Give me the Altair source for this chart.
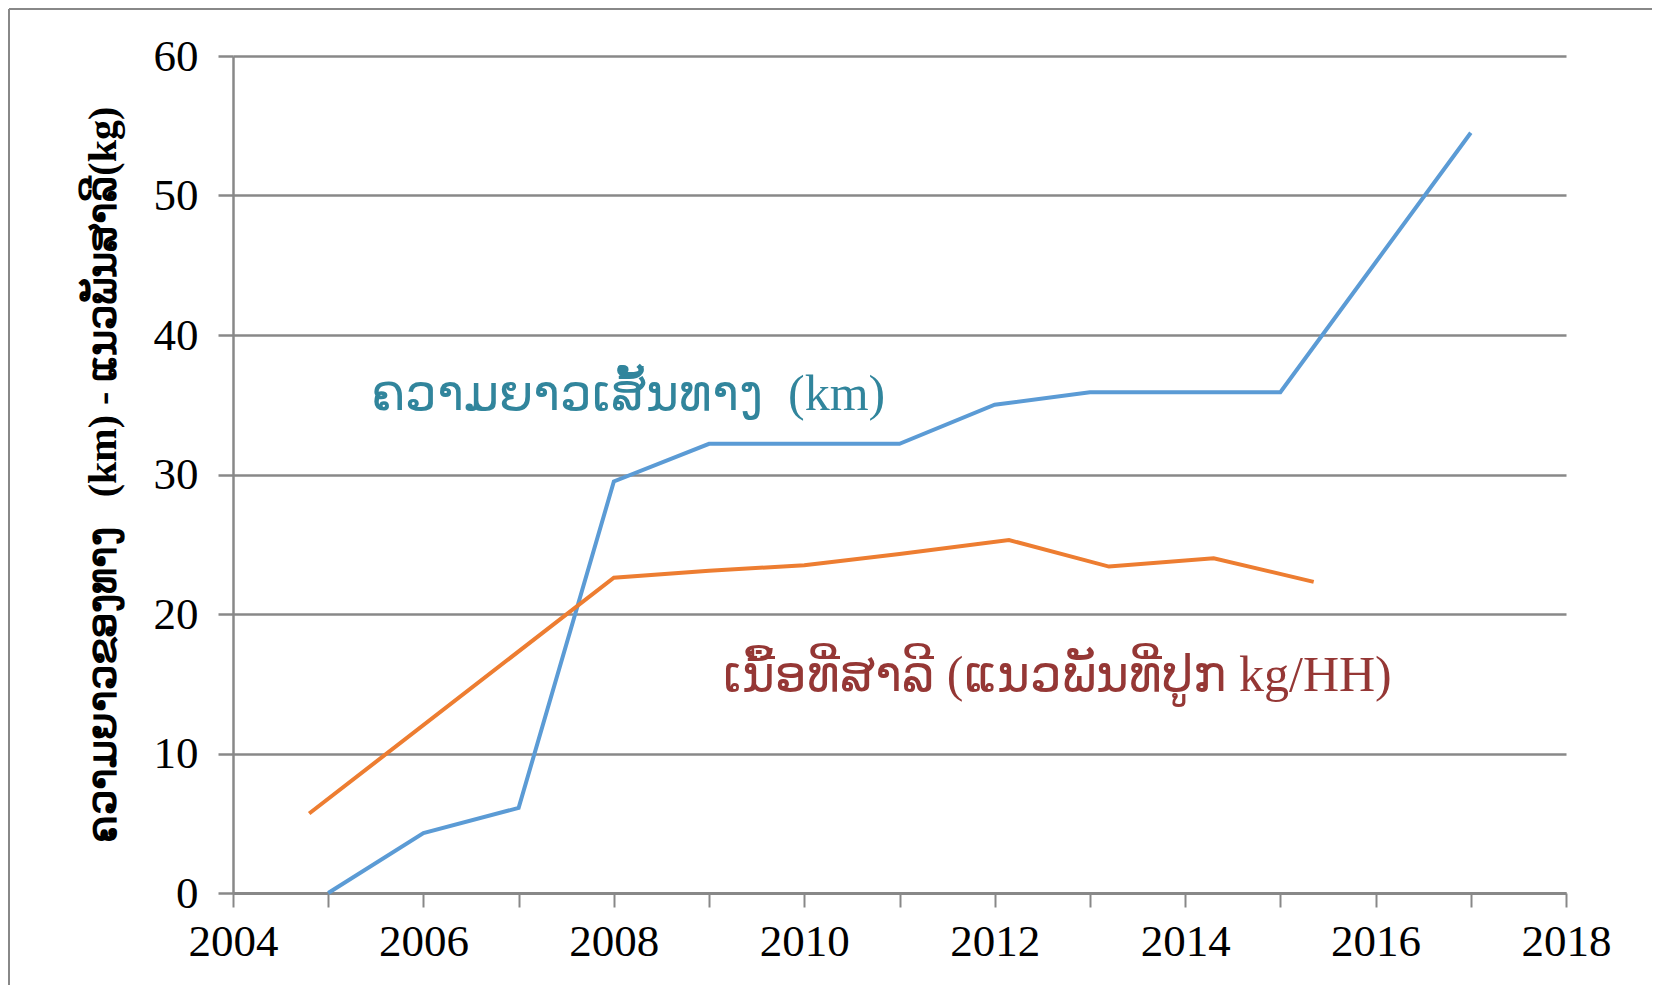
import altair as alt
import pandas as pd

# Road length (km), blue series
road_years = [2005, 2006, 2007, 2008, 2009, 2010, 2011, 2012, 2013, 2014, 2015, 2016, 2017]
road_km = [0.0, 4.3, 6.1, 29.5, 32.2, 32.2, 32.2, 35.0, 35.9, 35.9, 35.9, 45.2, 54.5]

# Maize seed (kg/HH), orange series
maize_years = [2004.8, 2008.0, 2009.0, 2010.0, 2011.0, 2012.15, 2013.2, 2014.3, 2015.35]
maize_kg = [5.7, 22.6, 23.1, 23.5, 24.3, 25.3, 23.4, 24.0, 22.3]

# Annotation labels (non-breaking spaces keep the wide gaps of the original)
label_texts = ["ຄວາມຍາວເສັ້ນທາງ\u00a0\u00a0(km)", "ເນື້ອທີ່ສາລີ (ແນວພັນທີ່ປູກ kg/HH)"]
label_x = [2005.45, 2009.15]
label_y = [34.6, 14.5]
label_colors = ["#31859C", "#953735"]
label_sizes = [50, 50]

x_ticks = list(range(2004, 2019))
y_ticks = [0, 10, 20, 30, 40, 50, 60]
y_title = "ຄວາມຍາວຂອງທາງ\u00a0\u00a0\u00a0(km) - ແນວພັນສາລີ(kg)"

road_df = pd.DataFrame({"year": road_years, "value": road_km})
maize_df = pd.DataFrame({"year": maize_years, "value": maize_kg})
label_df = pd.DataFrame({"year": label_x, "value": label_y, "text": label_texts,
                         "color": label_colors, "size": label_sizes})

W, H = 1333, 837
PAD_L, PAD_T, PAD_R, PAD_B = 225, 48, 86, 92

x_scale = alt.Scale(domain=[2004, 2018], nice=False, zero=False)
y_scale = alt.Scale(domain=[0, 60], nice=False)

x_axis = alt.Axis(
    values=x_ticks, format="d",
    labelExpr="datum.value % 2 == 0 ? datum.label : ''",
    grid=False, domain=True, domainColor="#888888", domainWidth=3,
    ticks=True, tickColor="#888888", tickSize=14, tickWidth=2,
    labelFont="Liberation Serif", labelFontSize=45, labelColor="#000000",
    labelPadding=12, labelFlush=False, labelOverlap=False, title=None,
)
y_axis = alt.Axis(
    values=y_ticks, grid=True, gridColor="#888888", gridWidth=2.5,
    domain=True, domainColor="#888888", domainWidth=2.5,
    ticks=True, tickColor="#888888", tickSize=15, tickWidth=2.5,
    labelFont="Liberation Serif", labelFontSize=45, labelColor="#000000",
    labelPadding=20, labelFlush=False,
    title=y_title, titleFont="Liberation Serif", titleFontSize=40,
    titleFontWeight="bold", titleColor="#000000", titlePadding=30,
)

base_axes = alt.Chart(road_df).mark_line(color="#5B9BD5", strokeWidth=4).encode(
    x=alt.X("year:Q", scale=x_scale, axis=x_axis),
    y=alt.Y("value:Q", scale=y_scale, axis=y_axis),
)

maize_line = alt.Chart(maize_df).mark_line(color="#ED7D31", strokeWidth=4).encode(
    x=alt.X("year:Q", scale=x_scale),
    y=alt.Y("value:Q", scale=y_scale),
)

labels = alt.Chart(label_df).mark_text(
    align="left", baseline="alphabetic", font="Liberation Serif"
).encode(
    x=alt.X("year:Q", scale=x_scale),
    y=alt.Y("value:Q", scale=y_scale),
    text="text:N",
    color=alt.Color("color:N", scale=None),
    size=alt.Size("size:Q", scale=None),
)

frame_top = alt.Chart(road_df).mark_rule(color="#888888", strokeWidth=2, clip=False).encode(
    x=alt.value(-PAD_L + 1), x2=alt.value(W + PAD_R), y=alt.value(-PAD_T + 1)
)
frame_left = alt.Chart(road_df).mark_rule(color="#888888", strokeWidth=2, clip=False).encode(
    x=alt.value(-PAD_L + 1), y=alt.value(-PAD_T + 1), y2=alt.value(H + PAD_B)
)

chart = alt.layer(base_axes, maize_line, labels, frame_top, frame_left).properties(
    width=W, height=H,
    autosize=alt.AutoSizeParams(type="none"),
    padding={"left": PAD_L, "top": PAD_T, "right": PAD_R, "bottom": PAD_B},
    background="white",
).configure_view(stroke=None)

chart.save("out.html", embed_options={"renderer": "svg", "actions": False})
